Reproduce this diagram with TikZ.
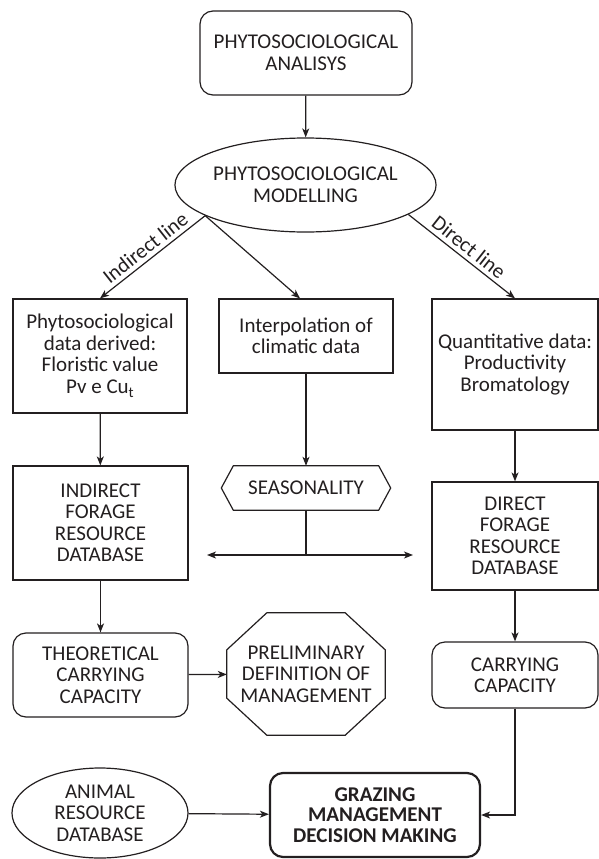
\documentclass[tikz,border=0pt]{standalone}
\usepackage{fontspec}
\setmainfont{Carlito}
\usetikzlibrary{shapes.geometric,arrows.meta}
\definecolor{ink}{RGB}{35,31,32}
\begin{document}
\begin{tikzpicture}[x=1bp,y=-1bp,
  every node/.style={text=ink, font=\fontsize{21bp}{21.5bp}\selectfont, align=center, inner sep=0pt},
  boxn/.style={draw=ink, line width=1.2bp},
  rbox/.style={boxn, rounded corners=13bp},
  ell/.style={boxn, ellipse},
  plain/.style={minimum width=#1},
  conn/.style={draw=ink, line width=1.2bp},
  arr/.style={conn, -{Stealth[length=9bp,width=7bp,inset=2.5bp]}},
  darr/.style={conn, {Stealth[length=9bp,width=7bp,inset=2.5bp]}-{Stealth[length=9bp,width=7bp,inset=2.5bp]}}
]
\useasboundingbox (0,0) rectangle (599,859);

\node[rbox, minimum width=212bp, minimum height=84bp] (pa) at (306,53) {PHYTOSOCIOLOGICAL\\ANALISYS};
\node[ell, minimum width=235bp, minimum height=94bp] (m) at (305.5,185) {PHYTOSOCIOLOGICAL\\MODELLING};

\node[boxn, minimum width=174bp, minimum height=114bp] (pb) at (100,356) {Phytosociological\\data derived:\\Floristic value\\Pv e Cu\raisebox{-4bp}{\fontsize{15bp}{15bp}\selectfont t}};
\node[boxn, minimum width=174bp, minimum height=74bp] (ip) at (306,336) {Interpolation of\\climatic data};
\node[boxn, minimum width=166bp, minimum height=131bp] (qd) at (515,364.5) {Quantitative data:\\Productivity\\Bromatology};

\node[boxn, minimum width=175bp, minimum height=114bp] (ib) at (100.5,523) {INDIRECT\\FORAGE\\RESOURCE\\DATABASE};
\node[minimum width=169bp, minimum height=44bp] (se) at (306,488) {SEASONALITY};
\draw[conn] (se.west) -- ([xshift=12bp]se.north west) -- ([xshift=-12bp]se.north east) -- (se.east) -- ([xshift=-12bp]se.south east) -- ([xshift=12bp]se.south west) -- cycle;
\node[boxn, minimum width=166bp, minimum height=108bp] (db) at (515,536) {DIRECT\\FORAGE\\RESOURCE\\DATABASE};

\node[rbox, minimum width=175bp, minimum height=84bp] (tc) at (100.5,675) {THEORETICAL\\CARRYING\\CAPACITY};
\node[minimum width=158bp, minimum height=122bp] (pd) at (306,674) {PRELIMINARY\\DEFINITION OF\\MANAGEMENT};
\draw[conn] ([xshift=40bp]pd.north west) -- ([xshift=-40bp]pd.north east) -- ([yshift=-37bp]pd.north east) -- ([yshift=37bp]pd.south east) -- ([xshift=-40bp]pd.south east) -- ([xshift=40bp]pd.south west) -- ([yshift=37bp]pd.south west) -- ([yshift=-37bp]pd.north west) -- cycle;
\node[rbox, minimum width=166bp, minimum height=66bp] (cc) at (515,675) {CARRYING\\CAPACITY};

\node[ell, minimum width=176bp, minimum height=90bp] (ar) at (100,813) {ANIMAL\\RESOURCE\\DATABASE};
\node[rbox, line width=2.2bp, minimum width=210bp, minimum height=84bp, font=\fontsize{21bp}{20.5bp}\selectfont\bfseries] (gm) at (375,815) {GRAZING\\MANAGEMENT\\DECISION MAKING};

\draw[arr] (pa) -- (m);
\draw[arr] (m.197) -- node[sloped, above=4bp] {Indirect line} (pb.north);
\draw[arr] (m.197) -- ([xshift=-6bp]ip.north);
\draw[arr] (m.-16) -- node[sloped, above=4bp] {Direct line} (qd.north);

\draw[arr] (pb) -- (ib);
\draw[arr] (ip) -- (se);
\draw[arr] (qd) -- (db);

\coordinate (j) at (306,555);
\coordinate (jl) at (207,555);
\coordinate (jr) at (413,555);
\draw[conn] (se.south) -- (j);
\draw[darr] (jl) -- (jr);

\draw[arr] (ib) -- (tc);
\draw[arr] (db) -- (cc);
\draw[arr] (tc) -- (pd);

\draw[arr] (ar) -- (gm);
\draw[arr] (cc.south) |- (gm.east);
\end{tikzpicture}
\end{document}
